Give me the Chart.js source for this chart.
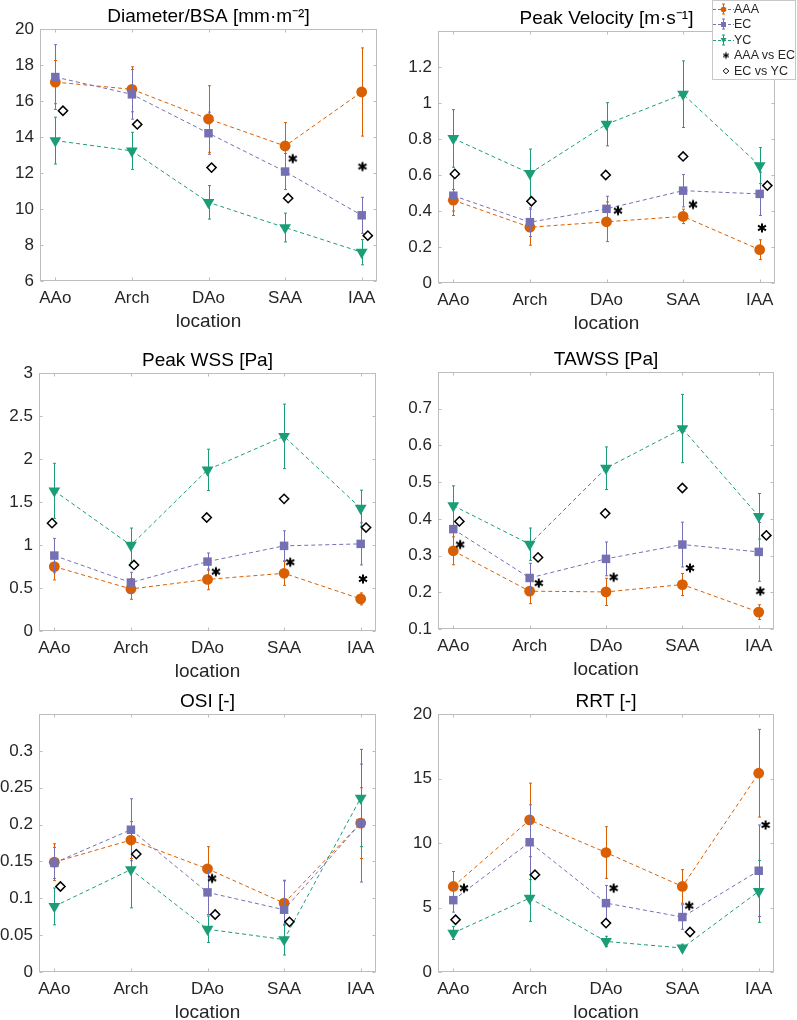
<!DOCTYPE html>
<html>
<head>
<meta charset="utf-8">
<script src="https://cdn.jsdelivr.net/npm/chart.js@4.4.0/dist/chart.umd.min.js"></script>
<style>
  html, body { margin: 0; padding: 0; background: #fff; overflow: hidden; }
  body { position: relative; width: 797px; height: 1020px; }
  canvas.panel { position: absolute; }
  #legendBox {
    position: absolute; left: 712px; top: 0; width: 84px; height: 80px;
    box-sizing: border-box; border: 1px solid #c8c8c8; background: #fff;
    font: 12.5px 'Liberation Sans', Arial, sans-serif; color: #262626;
  }
  #legendBox .row { height: 15.5px; display: flex; align-items: center; white-space: nowrap; }
  #legendBox canvas { display: block; }
</style>
</head>
<body>
<canvas class="panel" id="c1"></canvas>
<canvas class="panel" id="c2"></canvas>
<canvas class="panel" id="c3"></canvas>
<canvas class="panel" id="c4"></canvas>
<canvas class="panel" id="c5"></canvas>
<canvas class="panel" id="c6"></canvas>
<div id="legendBox"></div>
<script>
// categories
const locations = ['AAo', 'Arch', 'DAo', 'SAA', 'IAA'];
const locX = [1, 2, 3, 4, 5];
const seriesNames = ['AAA', 'EC', 'YC'];
const sigNames = ['AAA vs EC', 'EC vs YC'];

// Diameter/BSA
const diamAAA = [17.05, 16.65, 15.0, 13.5, 16.5];
const diamAAAErr = [1.2, 1.25, 1.85, 1.3, 2.45];
const diamEC = [17.33, 16.37, 14.21, 12.08, 9.65];
const diamECErr = [1.8, 1.38, 1.17, 1.0, 1.0];
const diamYC = [13.8, 13.23, 10.37, 8.97, 7.6];
const diamYCErr = [1.3, 1.03, 0.93, 0.8, 0.7];
const diamStarX = [4.1, 5.01];
const diamStarY = [12.8, 12.36];
const diamDiaX = [1.1, 2.07, 3.04, 4.04, 5.08];
const diamDiaY = [15.46, 14.7, 12.3, 10.6, 8.52];
const diamTicks = [6, 8, 10, 12, 14, 16, 18, 20];

// Peak velocity
const velAAA = [0.46, 0.31, 0.34, 0.37, 0.185];
const velAAAErr = [0.06, 0.1, 0.11, 0.04, 0.055];
const velEC = [0.485, 0.338, 0.412, 0.513, 0.495];
const velECErr = [0.11, 0.08, 0.07, 0.09, 0.12];
const velYC = [0.803, 0.609, 0.882, 1.049, 0.652];
const velYCErr = [0.16, 0.135, 0.12, 0.185, 0.1];
const velStarX = [3.15, 4.13, 5.03];
const velStarY = [0.402, 0.436, 0.306];
const velDiaX = [1.02, 2.02, 2.99, 4.0, 5.1];
const velDiaY = [0.606, 0.454, 0.6, 0.703, 0.541];
const velTicks = [0, 0.2, 0.4, 0.6, 0.8, 1, 1.2];

// Peak WSS
const pwssAAA = [0.749, 0.489, 0.6, 0.671, 0.373];
const pwssAAAErr = [0.155, 0.12, 0.12, 0.14, 0.07];
const pwssEC = [0.877, 0.563, 0.807, 0.99, 1.013];
const pwssECErr = [0.2, 0.12, 0.1, 0.175, 0.245];
const pwssYC = [1.63, 0.997, 1.874, 2.263, 1.428];
const pwssYCErr = [0.32, 0.2, 0.24, 0.375, 0.21];
const pwssStarX = [3.11, 4.08, 5.03];
const pwssStarY = [0.69, 0.8, 0.605];
const pwssDiaX = [0.97, 2.04, 2.99, 4.0, 5.07];
const pwssDiaY = [1.254, 0.768, 1.32, 1.537, 1.203];
const pwssTicks = [0, 0.5, 1, 1.5, 2, 2.5, 3];

// TAWSS
const tawssAAA = [0.313, 0.203, 0.201, 0.221, 0.146];
const tawssAAAErr = [0.038, 0.034, 0.037, 0.03, 0.02];
const tawssEC = [0.372, 0.239, 0.291, 0.33, 0.31];
const tawssECErr = [0.06, 0.04, 0.046, 0.061, 0.08];
const tawssYC = [0.436, 0.331, 0.538, 0.646, 0.407];
const tawssYCErr = [0.054, 0.044, 0.058, 0.093, 0.062];
const tawssStarX = [1.09, 2.12, 3.1, 4.1, 5.02];
const tawssStarY = [0.33, 0.225, 0.241, 0.266, 0.203];
const tawssDiaX = [1.08, 2.11, 2.99, 4.0, 5.1];
const tawssDiaY = [0.393, 0.295, 0.415, 0.484, 0.355];
const tawssTicks = [0.1, 0.2, 0.3, 0.4, 0.5, 0.6, 0.7];

// OSI
const osiAAA = [0.149, 0.179, 0.14, 0.0935, 0.202];
const osiAAAErr = [0.025, 0.025, 0.03, 0.03, 0.048];
const osiEC = [0.148, 0.193, 0.108, 0.0845, 0.202];
const osiECErr = [0.021, 0.042, 0.03, 0.04, 0.08];
const osiYC = [0.089, 0.139, 0.058, 0.044, 0.236];
const osiYCErr = [0.025, 0.052, 0.018, 0.021, 0.066];
const osiStarX = [3.06];
const osiStarY = [0.127];
const osiDiaX = [1.08, 2.07, 3.1, 4.07];
const osiDiaY = [0.116, 0.16, 0.078, 0.068];
const osiTicks = [0, 0.05, 0.1, 0.15, 0.2, 0.25, 0.3];

// RRT
const rrtAAA = [6.63, 11.79, 9.26, 6.63, 15.41];
const rrtAAAErr = [1.16, 2.85, 2.0, 1.3, 3.4];
const rrtEC = [5.57, 10.06, 5.34, 4.26, 7.85];
const rrtECErr = [0.93, 2.9, 1.37, 0.95, 3.55];
const rrtYC = [3.02, 5.73, 2.37, 1.86, 6.25];
const rrtYCErr = [0.5, 1.8, 0.4, 0.3, 2.4];
const rrtStarX = [1.14, 3.1, 4.09, 5.09];
const rrtStarY = [6.5, 6.5, 5.14, 11.4];
const rrtDiaX = [1.03, 2.07, 3.0, 4.1];
const rrtDiaY = [4.05, 7.54, 3.79, 3.1];
const rrtTicks = [0, 5, 10, 15, 20];

const colAAA = '#d95f02', colEC = '#7570b3', colYC = '#1b9e77';
const boxColor = '#bdbdbd';

Chart.defaults.font.family = "'Liberation Sans', Arial, Helvetica, sans-serif";
Chart.defaults.color = '#262626';
Chart.defaults.animation = false;

// six-armed asterisk, used as a point style
function asterisk(r, lw) {
  const s = Math.ceil(2 * r + lw + 2);
  const c = document.createElement('canvas');
  c.width = s; c.height = s;
  const g = c.getContext('2d');
  const cx = s / 2, cy = s / 2;
  g.strokeStyle = '#000'; g.lineWidth = lw; g.lineCap = 'butt';
  g.beginPath();
  for (const a of [90, 30, -30]) {
    const dx = Math.cos(a * Math.PI / 180) * r, dy = Math.sin(a * Math.PI / 180) * r;
    g.moveTo(cx - dx, cy - dy); g.lineTo(cx + dx, cy + dy);
  }
  g.stroke();
  return c;
}
const starMark = asterisk(4.6, 2);

// vertical error bars, drawn just under each dataset
const errorBars = {
  id: 'errorBars',
  beforeDatasetDraw(chart, args) {
    const ds = chart.data.datasets[args.index];
    if (!ds.errors) return;
    const {ctx, scales: {x, y}} = chart;
    ctx.save();
    ctx.strokeStyle = ds.borderColor;
    ctx.lineWidth = 1;
    ds.data.forEach((p, i) => {
      const e = ds.errors[i];
      const px = Math.round(x.getPixelForValue(p.x)) + 0.5;
      const top = y.getPixelForValue(p.y + e);
      const bot = y.getPixelForValue(p.y - e);
      ctx.beginPath();
      ctx.moveTo(px, top); ctx.lineTo(px, bot);
      ctx.moveTo(px - 1.5, top); ctx.lineTo(px + 1.5, top);
      ctx.moveTo(px - 1.5, bot); ctx.lineTo(px + 1.5, bot);
      ctx.stroke();
    });
    ctx.restore();
  }
};

// matlab style box with inward ticks
const axesBox = {
  id: 'axesBox',
  beforeDatasetsDraw(chart) {
    const {ctx, chartArea: a, scales: {x, y}} = chart;
    const l = Math.round(a.left) + 0.5, r = Math.round(a.right) - 0.5;
    const t = Math.round(a.top) + 0.5, b = Math.round(a.bottom) - 0.5;
    ctx.save();
    ctx.strokeStyle = boxColor;
    ctx.lineWidth = 1;
    ctx.strokeRect(l, t, r - l, b - t);
    ctx.beginPath();
    x.ticks.forEach(tk => {
      const px = Math.round(x.getPixelForValue(tk.value)) + 0.5;
      ctx.moveTo(px, b); ctx.lineTo(px, b - 3);
      ctx.moveTo(px, t); ctx.lineTo(px, t + 3);
    });
    y.ticks.forEach(tk => {
      const py = Math.round(y.getPixelForValue(tk.value)) + 0.5;
      ctx.moveTo(l, py); ctx.lineTo(l + 3, py);
      ctx.moveTo(r, py); ctx.lineTo(r - 3, py);
    });
    ctx.stroke();
    ctx.restore();
  }
};

const pts = (xs, ys) => ys.map((v, i) => ({x: xs[i], y: v}));

function series(label, vals, errs, color, style, radius, rot, order) {
  return {
    label, data: pts(locX, vals), errors: errs, order,
    borderColor: color, backgroundColor: color, borderWidth: 1, borderDash: [4, 3],
    pointStyle: style, pointRadius: radius, pointRotation: rot,
    pointBackgroundColor: color, pointBorderColor: color, pointBorderWidth: 0,
    showLine: true, fill: false, tension: 0
  };
}

function makePanel(id, box, title, yTicks, yMax, d) {
  const el = document.getElementById(id);
  el.width = box.w + 60;
  el.height = box.h + 85;
  el.style.left = (box.left - 45) + 'px';
  el.style.top = (box.top - 30) + 'px';
  return new Chart(el, {
    type: 'line',
    plugins: [axesBox, errorBars],
    data: {
      datasets: [
        series('AAA', d.aaa, d.aaaErr, colAAA, 'circle', 5.4, 0, 4),
        series('EC', d.ec, d.ecErr, colEC, 'rect', 6, 0, 3),
        series('YC', d.yc, d.ycErr, colYC, 'triangle', 6.8, 180, 2),
        {
          label: 'AAA vs EC', data: pts(d.starX, d.starY), showLine: false, order: 0,
          pointStyle: starMark, pointRadius: 5
        },
        {
          label: 'EC vs YC', data: pts(d.diaX, d.diaY), showLine: false, order: 1,
          pointStyle: 'rectRot', pointRadius: 4.6, pointBorderWidth: 1.5,
          pointBorderColor: '#000', pointBackgroundColor: '#fff'
        }
      ]
    },
    options: {
      responsive: false,
      layout: {padding: {left: 0, right: 15, top: 0, bottom: 0}},
      plugins: {
        legend: {display: false},
        tooltip: {enabled: false},
        title: {
          display: true, text: title, fullSize: false, color: '#000',
          font: {size: 19, weight: 'normal', lineHeight: 1.2},
          padding: {top: 6.7, bottom: 0.5}
        }
      },
      scales: {
        x: {
          type: 'linear', min: 0.8, max: 5.2,
          afterBuildTicks: s => { s.ticks = locX.map(v => ({value: v})); },
          afterFit: s => { s.height = 55; },
          grid: {display: false, drawTicks: false}, border: {display: false},
          ticks: {padding: 7.5, font: {size: 17}, maxRotation: 0, autoSkip: false,
                  callback: (v, i) => locations[i]},
          title: {display: true, text: 'location', font: {size: 19}, padding: {top: 0, bottom: 2.5}}
        },
        y: {
          min: yTicks[0], max: yMax,
          afterBuildTicks: s => { s.ticks = yTicks.map(v => ({value: v})); },
          afterFit: s => { s.width = 45; },
          grid: {display: false, drawTicks: false}, border: {display: false},
          ticks: {padding: 6, font: {size: 17}, autoSkip: false,
                  callback: v => String(+v.toFixed(3))}
        }
      }
    }
  });
}

makePanel('c1', {left: 40, top: 29, w: 337, h: 252}, 'Diameter/BSA [mm\u00b7m\u207b\u00b2]', diamTicks, 20,
  {aaa: diamAAA, aaaErr: diamAAAErr, ec: diamEC, ecErr: diamECErr, yc: diamYC, ycErr: diamYCErr,
   starX: diamStarX, starY: diamStarY, diaX: diamDiaX, diaY: diamDiaY});
makePanel('c2', {left: 438, top: 31, w: 337, h: 252}, 'Peak Velocity [m\u00b7s\u207b\u00b9]', velTicks, 1.4,
  {aaa: velAAA, aaaErr: velAAAErr, ec: velEC, ecErr: velECErr, yc: velYC, ycErr: velYCErr,
   starX: velStarX, starY: velStarY, diaX: velDiaX, diaY: velDiaY});
makePanel('c3', {left: 39, top: 373, w: 337, h: 258}, 'Peak WSS [Pa]', pwssTicks, 3,
  {aaa: pwssAAA, aaaErr: pwssAAAErr, ec: pwssEC, ecErr: pwssECErr, yc: pwssYC, ycErr: pwssYCErr,
   starX: pwssStarX, starY: pwssStarY, diaX: pwssDiaX, diaY: pwssDiaY});
makePanel('c4', {left: 438, top: 372, w: 336, h: 257}, 'TAWSS [Pa]', tawssTicks, 0.8,
  {aaa: tawssAAA, aaaErr: tawssAAAErr, ec: tawssEC, ecErr: tawssECErr, yc: tawssYC, ycErr: tawssYCErr,
   starX: tawssStarX, starY: tawssStarY, diaX: tawssDiaX, diaY: tawssDiaY});
makePanel('c5', {left: 39, top: 714, w: 337, h: 258}, 'OSI [-]', osiTicks, 0.35,
  {aaa: osiAAA, aaaErr: osiAAAErr, ec: osiEC, ecErr: osiECErr, yc: osiYC, ycErr: osiYCErr,
   starX: osiStarX, starY: osiStarY, diaX: osiDiaX, diaY: osiDiaY});
makePanel('c6', {left: 438, top: 714, w: 336, h: 258}, 'RRT [-]', rrtTicks, 20,
  {aaa: rrtAAA, aaaErr: rrtAAAErr, ec: rrtEC, ecErr: rrtECErr, yc: rrtYC, ycErr: rrtYCErr,
   starX: rrtStarX, starY: rrtStarY, diaX: rrtDiaX, diaY: rrtDiaY});

// html legend with small drawn icons
function legendIcon(kind, color) {
  const c = document.createElement('canvas');
  c.width = 21; c.height = 12;
  const g = c.getContext('2d');
  const cx = 10.5, cy = 6;
  if (kind === 'circle' || kind === 'rect' || kind === 'tri') {
    g.strokeStyle = color; g.lineWidth = 1;
    g.setLineDash([3, 2]);
    g.beginPath(); g.moveTo(0, cy + 0.5); g.lineTo(21, cy + 0.5); g.stroke();
    g.setLineDash([]);
    g.beginPath();
    g.moveTo(cx, 1); g.lineTo(cx, 11);
    g.moveTo(cx - 1.5, 1); g.lineTo(cx + 1.5, 1);
    g.moveTo(cx - 1.5, 11); g.lineTo(cx + 1.5, 11);
    g.stroke();
    g.fillStyle = color;
    g.beginPath();
    if (kind === 'circle') g.arc(cx, cy + 0.5, 2.8, 0, Math.PI * 2);
    if (kind === 'rect') g.rect(cx - 2.5, cy - 2, 5, 5);
    if (kind === 'tri') { g.moveTo(cx - 3, cy - 2); g.lineTo(cx + 3, cy - 2); g.lineTo(cx, cy + 3); g.closePath(); }
    g.fill();
  } else if (kind === 'star') {
    const a = asterisk(3.2, 1.2);
    g.drawImage(a, 13 - a.width / 2, cy + 0.5 - a.height / 2);
  } else {
    const sx = 13, r = 2.8;
    g.strokeStyle = '#000'; g.lineWidth = 1;
    g.beginPath();
    g.moveTo(sx, cy - r); g.lineTo(sx + r, cy); g.lineTo(sx, cy + r); g.lineTo(sx - r, cy); g.closePath();
    g.stroke();
  }
  return c;
}

const legendBox = document.getElementById('legendBox');
const legendKinds = [['circle', colAAA], ['rect', colEC], ['tri', colYC], ['star', '#000'], ['diamond', '#000']];
seriesNames.concat(sigNames).forEach((name, i) => {
  const row = document.createElement('div');
  row.className = 'row';
  row.appendChild(legendIcon(legendKinds[i][0], legendKinds[i][1]));
  const span = document.createElement('span');
  span.textContent = name;
  row.appendChild(span);
  legendBox.appendChild(row);
});
</script>
</body>
</html>
